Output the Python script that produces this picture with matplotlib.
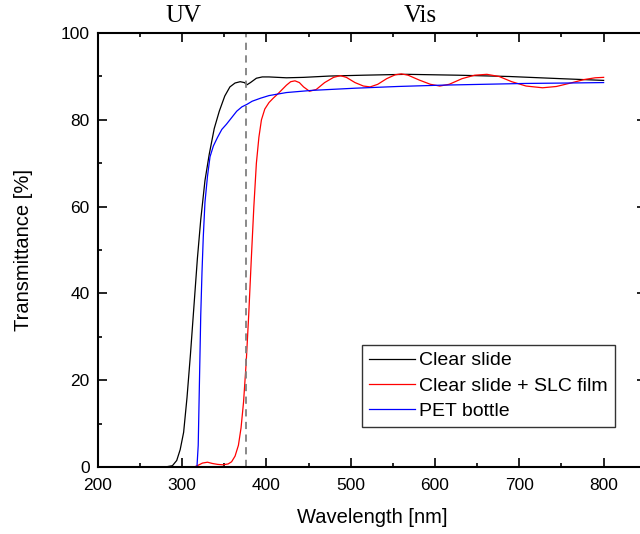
import matplotlib
matplotlib.use('Agg')
import matplotlib.pyplot as plt
from matplotlib.ticker import MultipleLocator

# Datos (longitud de onda en nm, transmitancia en %)
wl_clear = [250, 280, 288.4, 293.5, 297.6, 301.7, 305.7, 309.8, 313.9, 318, 322, 327, 332, 338, 344,
            350.5, 356.6, 362.7, 368.8, 373.8, 376.9, 381, 388, 395, 403, 423.7, 444, 474.5, 515, 566,
            627, 688, 749, 800]
t_clear = [0, 0, 0.3, 1.5, 4, 8, 16, 26, 37, 48, 57, 66, 72, 78, 82,
           85.5, 87.6, 88.5, 88.8, 88.6, 88.1, 88.6, 89.6, 89.9, 89.9, 89.7, 89.8, 90.1, 90.3, 90.5,
           90.3, 90.0, 89.5, 89.1]

wl_slc = [250, 314, 318, 324, 330, 336, 342, 348, 354.5, 358.6, 362.7, 366.7, 369.8, 372.8, 375.9,
          378.9, 382, 385, 388, 391, 394, 398, 403, 408, 413.5, 418.6, 423.7, 428.7, 433.8, 439,
          444, 451, 459, 469, 479.6, 487.7, 494.8, 505, 515, 523, 532, 542.6, 552.8, 560, 568,
          581, 594.5, 605.6, 616.8, 632, 647, 661.5, 676, 691, 708, 727.6, 744, 761, 777, 790, 800]
t_slc = [0, 0, 0.3, 0.9, 1.1, 0.8, 0.6, 0.5, 0.7, 1.2, 2.5, 5, 9, 15, 24,
         35, 48, 60, 70, 76, 80, 82.5, 84, 85, 86, 87, 88, 88.8, 89, 88.6,
         87.6, 86.6, 87, 88.6, 89.8, 90.2, 89.8, 88.6, 87.8, 87.6, 88.2, 89.5, 90.4, 90.6, 90.3,
         89.2, 88.2, 87.8, 88.2, 89.5, 90.3, 90.5, 90, 88.8, 87.8, 87.4, 87.7, 88.5, 89.3, 89.7, 89.8]

wl_pet = [250, 317.5, 319, 320.5, 322, 323.5, 325, 327, 330, 333, 337, 342, 347, 352.5, 358.6,
          364.7, 370.8, 377, 383, 393, 403, 423.7, 454, 505, 556, 607, 657.5, 708, 759, 800]
t_pet = [0, 0, 5, 20, 35, 45, 53, 61, 67, 71.5, 74, 76, 77.8, 79, 80.5,
         82, 83, 83.6, 84.3, 85, 85.6, 86.3, 86.8, 87.3, 87.7, 88, 88.2, 88.4, 88.5, 88.6]

limite_uv = 376

fig = plt.figure(figsize=(6.4, 5.34), dpi=100)
# el eje derecho queda justo fuera de la imagen, como en el original
ax = fig.add_axes([0.153, 0.1255, 0.856, 0.8125])

ax.plot(wl_clear, t_clear, color='black', lw=0.9, label='Clear slide')
ax.plot(wl_slc, t_slc, color='red', lw=0.9, label='Clear slide + SLC film')
ax.plot(wl_pet, t_pet, color='blue', lw=0.9, label='PET bottle')
ax.axvline(limite_uv, color='gray', ls=(0, (4, 3)), lw=1.3)

ax.set_xlim(200, 850)
ax.set_ylim(0, 100)
ax.xaxis.set_major_locator(MultipleLocator(100))
ax.xaxis.set_minor_locator(MultipleLocator(50))
ax.yaxis.set_major_locator(MultipleLocator(20))
ax.yaxis.set_minor_locator(MultipleLocator(10))
ax.tick_params(which='both', direction='in', top=True, right=True, labelsize=12.5, width=1.2)
ax.tick_params(which='major', length=6.5)
ax.tick_params(which='minor', length=3.2)
ax.tick_params(axis='x', pad=8)
ax.tick_params(axis='y', pad=6)
for s in ax.spines.values():
    s.set_linewidth(1.5)

for lbl in ax.get_xticklabels() + ax.get_yticklabels():
    lbl.set_family('Liberation Sans')

ax.set_xlabel('Wavelength [nm]', family='Liberation Sans', fontsize=14.5, labelpad=11)
ax.set_ylabel('Transmittance [%]', family='Liberation Sans', fontsize=14.5, labelpad=20)

tr = ax.get_xaxis_transform()
ax.text(302, 1.015, 'UV', transform=tr, ha='center', va='bottom', family='Liberation Serif', fontsize=18)
ax.text(582, 1.015, 'Vis', transform=tr, ha='center', va='bottom', family='Liberation Serif', fontsize=18)

leg = ax.legend(loc='upper left', bbox_to_anchor=(0.482, 0.281), frameon=True, fancybox=False,
                edgecolor='black', handlelength=2.4, handletextpad=0.2, borderpad=0.35,
                labelspacing=0.4, borderaxespad=0, prop={'family': 'Liberation Sans', 'size': 14})
leg.get_frame().set_linewidth(1.0)

fig.savefig('out.png', dpi=100)
